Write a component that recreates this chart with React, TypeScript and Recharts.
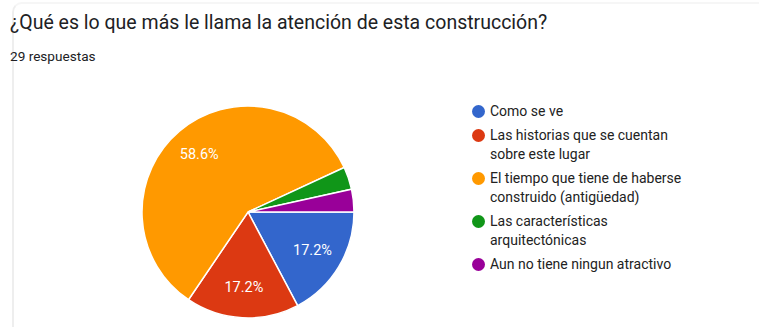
import { PieChart, Pie, Cell, Legend } from 'recharts'

const categories = [
  'Como se ve',
  'Las historias que se cuentan sobre este lugar',
  'El tiempo que tiene de haberse construido (antigüedad)',
  'Las características arquitectónicas',
  'Aun no tiene ningun atractivo',
]
const responses = [5, 5, 17, 1, 1]
const colors = ['#3366cc', '#dc3912', '#ff9900', '#109618', '#990099']

const title = '¿Qué es lo que más le llama la atención de esta construcción?'
const subtitle = '29 respuestas'

const data = categories.map((name, i) => ({ name, value: responses[i] }))
const total = responses.reduce((a, b) => a + b, 0)

const RAD = Math.PI / 180
const font = 'Roboto, "Noto Sans", sans-serif'

function renderLabel(props: any) {
  const { cx, cy, midAngle, outerRadius, value } = props
  const pct = (value / total) * 100
  if (pct < 5) return null
  const r = outerRadius * 0.71
  const x = cx + r * Math.cos(-midAngle * RAD)
  const y = cy + r * Math.sin(-midAngle * RAD)
  return (
    <text x={x} y={y} fill="#fff" fontSize={14.5} fontFamily={font} textAnchor="middle" dominantBaseline="central">
      {pct.toFixed(1)}%
    </text>
  )
}

function LegendBox() {
  return (
    <div style={{ fontFamily: font, fontSize: 14, color: '#222', lineHeight: '19.5px', textAlign: 'left' }}>
      {data.map((d, i) => (
        <div key={d.name} style={{ display: 'flex', alignItems: 'flex-start', marginBottom: 4, width: 222 }}>
          <span
            style={{
              width: 13,
              height: 13,
              borderRadius: '50%',
              background: colors[i],
              flex: 'none',
              marginTop: 3,
              marginRight: 5,
            }}
          />
          <span>{d.name}</span>
        </div>
      ))}
    </div>
  )
}

export default function App() {
  return (
    <div style={{ position: 'absolute', left: 0, top: 0, width: 759, height: 327, background: '#fff', overflow: 'hidden' }}>
      <div
        style={{
          position: 'absolute',
          left: 12,
          top: 2,
          width: 900,
          height: 400,
          borderLeft: '2px solid #eeeeee',
          borderTop: '2px solid #f6f6f6',
          borderTopLeftRadius: 10,
        }}
      />
      <div style={{ position: 'absolute', left: 10, top: 11, fontFamily: font, fontSize: 19.5, color: '#202124' }}>
        {title}
      </div>
      <div style={{ position: 'absolute', left: 10, top: 48, fontFamily: font, fontSize: 13.6, color: '#202124' }}>
        {subtitle}
      </div>
      <PieChart
        width={759}
        height={327}
        margin={{ top: 0, right: 0, bottom: 0, left: 0 }}
        style={{ position: 'absolute', left: 0, top: 0 }}
      >
        <Pie
          data={data}
          dataKey="value"
          nameKey="name"
          cx={248}
          cy={212}
          outerRadius={106}
          startAngle={0}
          endAngle={-360}
          stroke="#fff"
          strokeWidth={1.5}
          label={renderLabel}
          labelLine={false}
          isAnimationActive={false}
        >
          {data.map((d, i) => (
            <Cell key={d.name} fill={colors[i]} />
          ))}
        </Pie>
        <Legend
          layout="vertical"
          content={() => <LegendBox />}
          wrapperStyle={{ left: 472, top: 102, width: 240 }}
        />
      </PieChart>
    </div>
  )
}
